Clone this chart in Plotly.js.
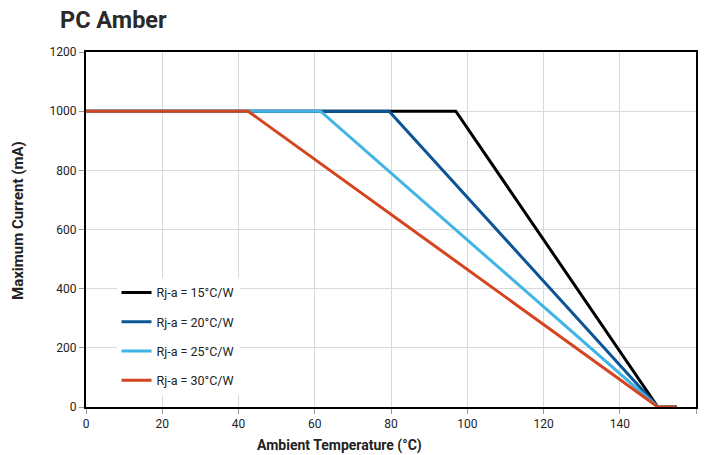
<!DOCTYPE html>
<html>
<head>
<meta charset="utf-8">
<script src="https://cdn.plot.ly/plotly-3.0.1.min.js"></script>
<style>html,body{margin:0;padding:0;background:#fff;}#chart{width:704px;height:455px;}</style>
</head>
<body>
<div id="chart"></div>
<script>
// Series data: ambient temperature (°C) vs maximum current (mA)
const seriesNames = ["Rj-a = 15°C/W", "Rj-a = 20°C/W", "Rj-a = 25°C/W", "Rj-a = 30°C/W"];
const seriesColors = ["#000000", "#0b5595", "#41b4e6", "#d4441e"];
const temps15 = [0, 97, 150, 155];
const current15 = [1000, 1000, 0, 0];
const temps20 = [0, 79.5, 150, 155];
const current20 = [1000, 1000, 0, 0];
const temps25 = [0, 61.5, 150, 155];
const current25 = [1000, 1000, 0, 0];
const temps30 = [0, 42.5, 150, 155];
const current30 = [1000, 1000, 0, 0];
const xTicks = [0, 20, 40, 60, 80, 100, 120, 140, 160];
const yTicks = [0, 200, 400, 600, 800, 1000, 1200];

const xs = [temps15, temps20, temps25, temps30];
const ys = [current15, current20, current25, current30];

const traces = seriesNames.map((n, i) => ({
  x: xs[i], y: ys[i], name: n, type: 'scatter', mode: 'lines',
  line: {color: seriesColors[i], width: 3},
  legendgroup: 'g' + i
}));

const layout = {
  width: 704, height: 455,
  margin: {l: 86, r: 8, t: 52, b: 48},
  paper_bgcolor: '#fff', plot_bgcolor: '#fff',
  font: {family: 'Roboto, sans-serif', color: '#222', size: 12},
  title: {text: '<b>PC Amber</b>', x: 60/704, xanchor: 'left', y: 1 - 20/455, yanchor: 'middle',
          font: {family: 'Roboto, sans-serif', size: 23.5, color: '#2a2a2a'}},
  xaxis: {
    range: [0, 160], tickvals: xTicks, ticktext: xTicks.map(String),
    showgrid: true, gridcolor: '#d9d9d9', gridwidth: 1,
    showline: true, linecolor: '#000', linewidth: 2, mirror: true,
    ticks: 'outside', ticklen: 5, tickcolor: '#999', zeroline: false,
    tickfont: {size: 12, color: '#222'}
  },
  yaxis: {
    range: [0, 1200], tickvals: yTicks, ticktext: yTicks.map(String),
    showgrid: true, gridcolor: '#d9d9d9', gridwidth: 1,
    showline: true, linecolor: '#000', linewidth: 2, mirror: true,
    ticks: 'outside', ticklen: 5, tickcolor: '#999', zeroline: false,
    tickfont: {size: 12, color: '#222'}
  },
  annotations: [
    {text: '<b>Ambient Temperature (°C)</b>', xref: 'paper', yref: 'paper',
     x: (339 - 86) / 610, y: -(445 - 407) / 355, xanchor: 'center', yanchor: 'middle',
     showarrow: false, font: {size: 14, color: '#222'}},
    {text: '<b>Maximum Current (mA)</b>', xref: 'paper', yref: 'paper', textangle: -90,
     x: -(86 - 18) / 610, y: (407 - 221) / 355, xanchor: 'center', yanchor: 'middle',
     showarrow: false, font: {size: 15, color: '#222'}}
  ],
  showlegend: true,
  legend: {
    x: 0.05, y: 0.364, xanchor: 'left', yanchor: 'top',
    bgcolor: 'rgba(255,255,255,1)', borderwidth: 0,
    font: {size: 12.5, color: '#222'}, tracegroupgap: 10, itemwidth: 30,
    traceorder: 'grouped'
  }
};

Plotly.newPlot('chart', traces, layout, {displayModeBar: false, staticPlot: true});
</script>
</body>
</html>
